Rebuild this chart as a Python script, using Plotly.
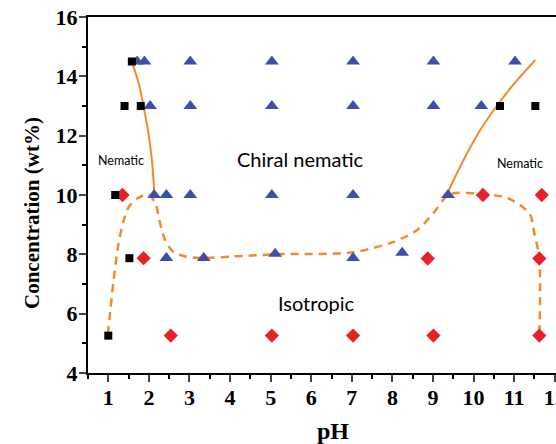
import plotly.graph_objects as go

# Phase observations: pH vs. concentration (wt%)
nematic_ph = [1.58, 1.40, 1.80, 1.17, 1.52, 1.00, 10.65, 11.52, 12.08, 12.08]
nematic_conc = [14.5, 13.0, 13.0, 10.0, 7.87, 5.26, 13.0, 13.0, 7.87, 5.26]

chiral_ph = [1.71, 1.89, 3.02, 5.03, 7.03, 9.01, 11.02,
             2.03, 3.02, 5.03, 7.03, 9.01, 10.19,
             2.13, 2.43, 3.02, 5.03, 7.03, 9.37,
             2.43, 3.35, 5.11, 7.03, 8.24]
chiral_conc = [14.5, 14.5, 14.5, 14.5, 14.5, 14.5, 14.5,
               13.0, 13.0, 13.0, 13.0, 13.0, 13.0,
               10.0, 10.0, 10.0, 10.0, 10.0, 10.0,
               7.88, 7.88, 8.02, 7.88, 8.05]

iso_ph = [1.35, 10.23, 11.68, 1.87, 8.87, 11.62, 2.54, 5.03, 7.03, 9.01, 11.62]
iso_conc = [10.0, 10.0, 10.0, 7.87, 7.86, 7.86, 5.26, 5.26, 5.26, 5.26, 5.26]

# Phase boundaries
left_bound_ph = [1.58, 1.75, 1.87, 1.99, 2.08, 2.14]
left_bound_conc = [14.49, 13.76, 12.97, 12.07, 11.10, 9.90]

right_bound_ph = [9.34, 9.75, 10.16, 10.57, 10.98, 11.52]
right_bound_conc = [10.02, 11.17, 12.18, 13.00, 13.72, 14.55]

iso_bound_ph = [0.99, 1.05, 1.13, 1.25, 1.38, 1.50, 1.71, 1.99, 2.16, 2.28, 2.40,
                2.61, 2.90, 3.31, 4.09, 5.11, 7.03, 8.01, 8.59, 9.00, 9.24, 9.40,
                10.23, 10.88, 11.38, 11.50, 11.62, 11.62]
iso_bound_conc = [5.31, 6.10, 7.11, 8.35, 9.14, 9.59, 9.88, 10.02, 9.71, 9.03, 8.47,
                  8.07, 7.93, 7.88, 7.93, 8.00, 8.07, 8.41, 8.80, 9.37, 9.82, 10.03,
                  10.04, 9.87, 9.37, 8.69, 7.85, 5.26]

x_ticks = list(range(1, 13))
y_ticks = [4, 6, 8, 10, 12, 14, 16]

ORANGE = "#F28A2A"
BLUE = "#3D4FA8"
RED = "#E8202A"

fig = go.Figure()

fig.add_trace(go.Scatter(
    x=iso_bound_ph, y=iso_bound_conc, mode="lines",
    line=dict(color=ORANGE, width=2.5, dash="8px,6px", shape="spline", smoothing=0.8),
    hoverinfo="skip"))
fig.add_trace(go.Scatter(
    x=left_bound_ph, y=left_bound_conc, mode="lines",
    line=dict(color=ORANGE, width=2, shape="spline"), hoverinfo="skip"))
fig.add_trace(go.Scatter(
    x=right_bound_ph, y=right_bound_conc, mode="lines",
    line=dict(color=ORANGE, width=2, shape="spline"), hoverinfo="skip"))

fig.add_trace(go.Scatter(
    x=chiral_ph, y=chiral_conc, mode="markers", name="Chiral nematic",
    marker=dict(symbol="triangle-up", size=12, color=BLUE)))
fig.add_trace(go.Scatter(
    x=iso_ph, y=iso_conc, mode="markers", name="Isotropic",
    marker=dict(symbol="diamond", size=11, color=RED)))
fig.add_trace(go.Scatter(
    x=nematic_ph, y=nematic_conc, mode="markers", name="Nematic",
    marker=dict(symbol="square", size=8, color="black"), cliponaxis=False))

label_font = dict(family="Lato, 'Open Sans', sans-serif", color="black")
fig.add_annotation(x=1.31, y=11.17, text="Nematic", showarrow=False,
                   font=dict(size=12.5, **label_font))
fig.add_annotation(x=11.15, y=11.07, text="Nematic", showarrow=False,
                   font=dict(size=12.5, **label_font))
fig.add_annotation(x=5.73, y=11.2, text="Chiral nematic", showarrow=False,
                   font=dict(size=20, **label_font))
fig.add_annotation(x=6.14, y=6.36, text="Isotropic", showarrow=False,
                   font=dict(size=20, **label_font))

axis_font = dict(family="'Liberation Serif', 'Times New Roman', serif", color="black")
fig.add_annotation(xref="paper", yref="paper", x=(333 - 88) / 468, y=-58 / 356,
                   text="<b>pH</b>", showarrow=False, yanchor="middle",
                   font=dict(size=24, **axis_font))
fig.add_annotation(xref="paper", yref="paper", x=(32 - 88) / 468, y=(373 - 213) / 356,
                   text="<b>Concentration (wt%)</b>", showarrow=False, textangle=-90,
                   xanchor="center", yanchor="middle",
                   font=dict(size=21, **axis_font))

fig.update_xaxes(
    range=[0.5, 12.03], tickvals=x_ticks, ticks="outside", ticklen=7, tickwidth=2,
    showline=True, linewidth=2, linecolor="black", mirror=True, showgrid=False,
    zeroline=False, ticklabeloverflow="allow", automargin=False, ticklabelstandoff=-3,
    tickfont=dict(size=22, weight="bold", **axis_font),
    minor=dict(dtick=0.5, tick0=0.5, ticks="outside", ticklen=4, tickwidth=2,
               tickcolor="black"))
fig.update_yaxes(
    range=[4, 16], tickvals=y_ticks, ticks="outside", ticklen=7, tickwidth=2,
    showline=True, linewidth=2, linecolor="black", showgrid=False, zeroline=False,
    automargin=False, ticklabelstandoff=-3,
    tickfont=dict(size=22, weight="bold", **axis_font),
    minor=dict(dtick=1, tick0=4, ticks="outside", ticklen=4, tickwidth=2,
               tickcolor="black"))

fig.update_layout(
    width=556, height=444, showlegend=False,
    margin=dict(l=88, r=0, t=17, b=71),
    plot_bgcolor="white", paper_bgcolor="white")

fig.write_html("out.html")
